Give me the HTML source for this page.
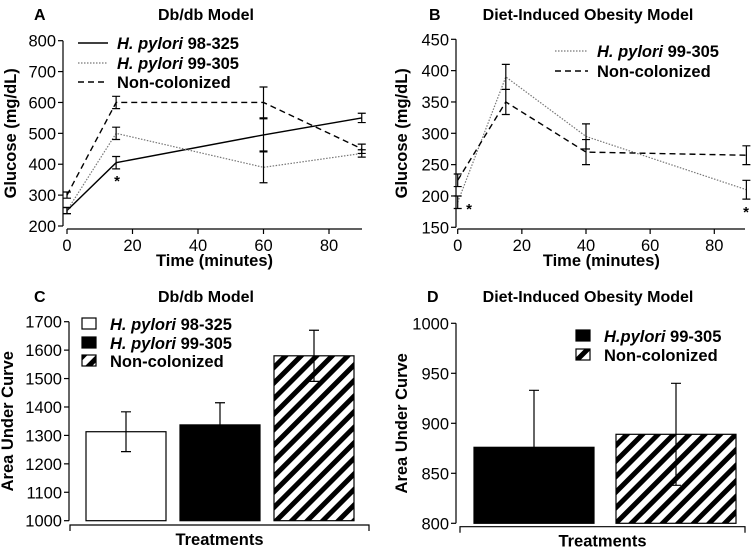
<!DOCTYPE html>
<html><head><meta charset="utf-8"><style>
body{margin:0;background:#fff}
svg{display:block;font-family:"Liberation Sans",Arial,sans-serif}
</style></head><body>
<svg id="c" width="755" height="550" viewBox="0 0 755 550">
<defs>
<pattern id="hatch" patternUnits="userSpaceOnUse" width="11" height="11" patternTransform="rotate(45)">
<rect x="0" y="0" width="5" height="11" fill="#000"/>
</pattern>
</defs>
</svg>
<script>
// Panel A data
const aTimes=[0,15,60,90];
const a98=[250,405,495,550]; const a98e=[10,20,52,15];
const a99=[250,500,390,435]; const a99e=[10,20,50,12];
const aNon=[300,600,600,450]; const aNone=[10,20,50,15];
const aYTicks=[200,300,400,500,600,700,800];
const aXTicks=[0,20,40,60,80];
// Panel B data
const bTimes=[0,15,40,90];
const b99=[190,390,295,210]; const b99e=[10,20,20,15];
const bNon=[225,350,270,265]; const bNone=[10,20,20,15];
const bYTicks=[150,200,250,300,350,400,450];
const bXTicks=[0,20,40,60,80];
// Panel C data
const cCats=["H. pylori 98-325","H. pylori 99-305","Non-colonized"];
const cVals=[1313,1337,1580]; const cErr=[70,78,90];
const cYTicks=[1000,1100,1200,1300,1400,1500,1600,1700];
// Panel D data
const dCats=["H.pylori 99-305","Non-colonized"];
const dVals=[876,889]; const dErr=[57,51];
const dYTicks=[800,850,900,950,1000];

const TICK=16.5, TITLE=16.5, PT=16;
const svg=document.getElementById('c');
const NS='http://www.w3.org/2000/svg';
function el(tag,attrs,parent){const e=document.createElementNS(NS,tag);for(const k in attrs)e.setAttribute(k,attrs[k]);(parent||svg).appendChild(e);return e;}
function txt(s,x,y,size,opts,parent){const t=el('text',Object.assign({x:x,y:y,'font-size':size,fill:'#000'},opts||{}),parent);t.textContent=s;return t;}
function lin(a,b,d0,d1,r0,r1){return v=>r0+(v-d0)/(d1-d0)*(r1-r0);}

function panelTitle(letter,lx,title,tx,y){
  const l=txt(letter,lx,y,PT,{'font-weight':'bold'});
  
  
  const t=txt(title,tx,y,PT,{'font-weight':'bold','text-anchor':'middle'});
  
  
}
function yAxis(g,ax,yTicks,ys,ytitle,titleX,name){
  const ymin=ys(yTicks[0]),ymax=ys(yTicks[yTicks.length-1]);
  el('line',{x1:ax,y1:ymin,x2:ax,y2:ymax,stroke:'#000','stroke-width':1.2},g);
  yTicks.forEach(v=>{el('line',{x1:ax-5,x2:ax,y1:ys(v),y2:ys(v),stroke:'#000','stroke-width':1.2},g);
    const t=txt(String(v),ax-7,ys(v)+6,TICK,{'text-anchor':'end'},g);
    
    });
  const cy=(ymin+ymax)/2;
  const t=txt(ytitle,titleX,cy,TITLE,{'font-weight':'bold','text-anchor':'middle',transform:'rotate(-90 '+titleX+' '+cy+')'},g);
  
  
}
function lineChart(id,times,series,yTicks,xTicks,ax,xs,ys,xAxisY,xAxisEnd,titleX){
  const g=el('g',{});
  
  
  yAxis(g,ax,yTicks,ys,'Glucose (mg/dL)',titleX,'y-axis-title');
  el('line',{x1:xs(0),x2:xAxisEnd,y1:xAxisY,y2:xAxisY,stroke:'#000','stroke-width':1.2},g);
  xTicks.forEach(v=>{el('line',{x1:xs(v),x2:xs(v),y1:xAxisY,y2:xAxisY+5,stroke:'#000','stroke-width':1.2},g);
    const t=txt(String(v),xs(v),xAxisY+22,TICK,{'text-anchor':'middle'},g);
    
    });
  const xt=txt('Time (minutes)',(xs(0)+xAxisEnd)/2,xAxisY+37,TITLE,{'font-weight':'bold','text-anchor':'middle'},g);
  
  
  series.forEach(s=>{
    const pts=times.map((t,i)=>xs(t)+','+ys(s.v[i])).join(' ');
    const p=el('polyline',{points:pts,fill:'none',stroke:s.c,'stroke-width':s.w,'stroke-dasharray':s.d},g);
    
    
    times.forEach((t,i)=>{const x=xs(t),y1=ys(s.v[i]-s.e[i]),y2=ys(s.v[i]+s.e[i]);
      const e=el('path',{d:`M${x},${y1}V${y2}M${x-4},${y1}H${x+4}M${x-4},${y2}H${x+4}`,stroke:'#000','stroke-width':1.2,fill:'none'},g);
      
      });
  });
  return g;
}
function legendLine(g,x1,x2,y,s,label,italic,rest){
  el('line',{x1:x1,x2:x2,y1:y,y2:y,stroke:s.c,'stroke-width':s.w,'stroke-dasharray':s.d},g);
  const t=txt('',x2+9,y+6,TITLE,{'font-weight':'bold'},g);
  if(italic){const a=el('tspan',{'font-style':'italic'},t);a.textContent=italic;const b=el('tspan',{},t);b.textContent=rest;}
  else t.textContent=label;
  
  
}
const S98={n:'98-325',c:'#000',w:1.4,d:'none'};
const S99={n:'99-305',c:'#777',w:1.2,d:'1.5 1.5'};
const SNon={n:'non-colonized',c:'#000',w:1.4,d:'6 4'};

// Panel A
panelTitle('A',34,'Db/db Model',206,20);
{const xs=lin(0,0,0,80,67,329),ys=lin(0,0,200,800,226,40.7);
 const g=lineChart('chart-a',aTimes,[Object.assign({v:a98,e:a98e},S98),Object.assign({v:a99,e:a99e},S99),Object.assign({v:aNon,e:aNone},SNon)],aYTicks,aXTicks,63,xs,ys,229,362,16);
 legendLine(g,78,108,43,S98,null,'H. pylori',' 98-325');
 legendLine(g,78,108,63,S99,null,'H. pylori',' 99-305');
 legendLine(g,78,108,82,SNon,'Non-colonized');
 txt('*',117,186,15,{'font-weight':'bold','text-anchor':'middle'},g);}
// Panel B
panelTitle('B',429,'Diet-Induced Obesity Model',588,20);
{const xs=lin(0,0,0,80,457.7,714.3),ys=lin(0,0,150,450,227.3,39.3);
 const g=lineChart('chart-b',bTimes,[Object.assign({v:b99,e:b99e},S99),Object.assign({v:bNon,e:bNone},SNon)],bYTicks,bXTicks,456,xs,ys,229,745,407);
 legendLine(g,555,588,51,S99,null,'H. pylori',' 99-305');
 legendLine(g,555,588,71,SNon,'Non-colonized');
 txt('*',469,214,15,{'font-weight':'bold','text-anchor':'middle'},g);
 txt('*',746,217,15,{'font-weight':'bold','text-anchor':'middle'},g);}

function barChart(id,cats,vals,errs,fills,yTicks,ax,ys,barX,barW,xAxisY,xa0,xa1,titleX){
  const g=el('g',{});
  
  
  yAxis(g,ax,yTicks,ys,'Area Under Curve',titleX,'y-axis-title');
  const base=ys(yTicks[0]);
  vals.forEach((v,i)=>{
    const r=el('rect',{x:barX[i],y:ys(v),width:barW,height:base-ys(v),fill:fills[i],stroke:'#000','stroke-width':1.2},g);
    
    
    const x=barX[i]+barW/2,y1=ys(v-errs[i]),y2=ys(v+errs[i]);
    const e=el('path',{d:`M${x},${y1}V${y2}M${x-5},${y1}H${x+5}M${x-5},${y2}H${x+5}`,stroke:'#000','stroke-width':1.2},g);
    
    
  });
  el('path',{d:`M${xa0},${xAxisY+6}V${xAxisY}H${xa1}V${xAxisY+6}`,stroke:'#000','stroke-width':1.2,fill:'none'},g);
  const t=txt('Treatments',(xa0+xa1)/2,xAxisY+20,TITLE,{'font-weight':'bold','text-anchor':'middle'},g);
  
  
  return g;
}
function legendBox(g,x,y,fill,label,italic,rest){
  el('rect',{x:x,y:y-6,width:14,height:11,fill:fill,stroke:'#000','stroke-width':1.2},g);
  const t=txt('',x+28,y+6,TITLE,{'font-weight':'bold'},g);
  if(italic){const a=el('tspan',{'font-style':'italic'},t);a.textContent=italic;const b=el('tspan',{},t);b.textContent=rest;}
  else t.textContent=label;
  
  
}
// Panel C
panelTitle('C',34,'Db/db Model',206,302);
{const ys=lin(0,0,1000,1700,520.7,321.7);
 const xs=i=>86+i*94;
 const g=barChart('chart-c',cCats,cVals,cErr,['#fff','#000','url(#hatch)'],cYTicks,69,ys,cVals.map((v,i)=>xs(i)),80,525,70,369,13);
 legendBox(g,82,324,'#fff',null,'H. pylori',' 98-325');
 legendBox(g,82,343,'#000',null,'H. pylori',' 99-305');
 legendBox(g,82,361,'url(#hatch)','Non-colonized');}
// Panel D
panelTitle('D',427,'Diet-Induced Obesity Model',588,302);
{const ys=lin(0,0,800,1000,523.3,323.3);
 const xs=i=>474+i*142;
 const g=barChart('chart-d',dCats,dVals,dErr,['#000','url(#hatch)'],dYTicks,456,ys,dVals.map((v,i)=>xs(i)),120,526.7,460,745,407);
 legendBox(g,576,336,'#000',null,'H.pylori',' 99-305');
 legendBox(g,576,355,'url(#hatch)','Non-colonized');}
</script>
</body></html>
